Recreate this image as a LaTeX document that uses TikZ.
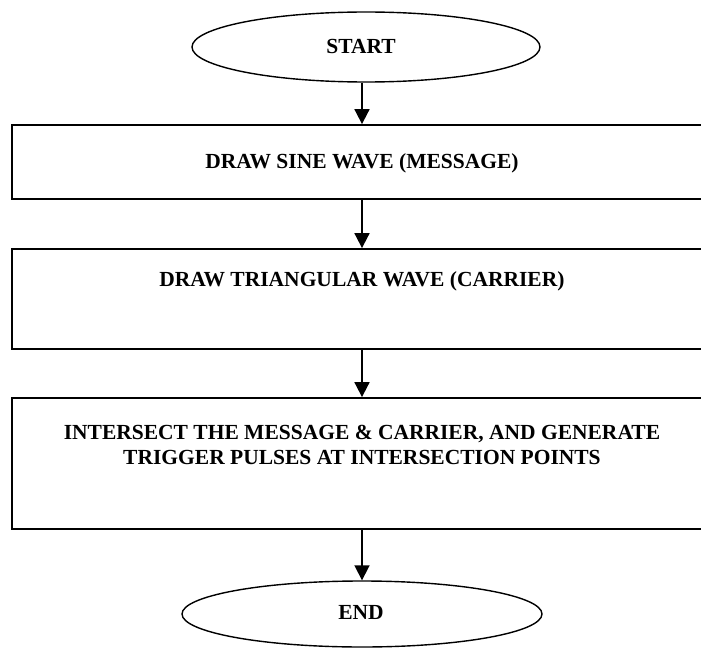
\documentclass[tikz,border=0pt]{standalone}
\usepackage{fontspec}
\setmainfont{Liberation Serif}
\usetikzlibrary{shapes.geometric,arrows.meta}
\begin{document}
\begin{tikzpicture}[x=1pt,y=-1pt,
  box/.style={draw,line width=1.8pt,minimum width=700pt,inner sep=0pt},
  term/.style={draw,ellipse,line width=1.4pt,inner sep=0pt},
  txt/.style={font=\fontsize{21.5}{25}\selectfont\bfseries,align=center,inner sep=0pt},
  arr/.style={line width=1.8pt,-{Triangle[width=15pt,length=15pt]}}]
\useasboundingbox (0,0) rectangle (701,650);
\clip (0,0) rectangle (701,650);
\node[term,minimum width=348pt,minimum height=70pt] (start) at (366,47) {};
\node[txt] (tstart) at (361,46) {START};
\node[box,minimum height=74pt] (b1) at (362,162) {};
\node[txt] (t1) at (362,163) {DRAW SINE WAVE (MESSAGE)};
\node[box,minimum height=100pt] (b2) at (362,299) {};
\node[txt] (t2) at (362,281) {DRAW TRIANGULAR WAVE (CARRIER)};
\node[box,minimum height=131pt] (b3) at (362,463.5) {};
\node[txt] (t3) at (362,445) {INTERSECT THE MESSAGE \& CARRIER, AND GENERATE\\TRIGGER PULSES AT INTERSECTION POINTS};
\node[term,minimum width=360pt,minimum height=66pt] (end) at (362,614) {};
\node[txt] (tend) at (361,612) {END};
\draw[arr] (start.south -| b1.north) -- (b1.north);
\draw[arr] (b1.south) -- (b2.north);
\draw[arr] (b2.south) -- (b3.north);
\draw[arr] (b3.south) -- (end.north);
\end{tikzpicture}
\end{document}
